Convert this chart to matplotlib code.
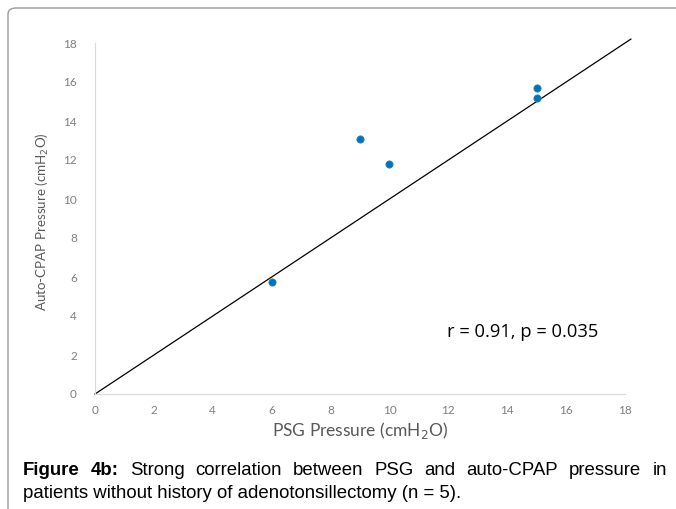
import matplotlib
matplotlib.use("Agg")
import matplotlib.pyplot as plt
from matplotlib.patches import FancyBboxPatch

# Data
psg_pressure = [6, 9, 10, 15, 15]
auto_cpap_pressure = [5.75, 13.1, 11.8, 15.7, 15.2]
identity_x = [0, 18.2]
identity_y = [0, 18.2]
ticks = [0, 2, 4, 6, 8, 10, 12, 14, 16, 18]

W, H = 676, 509
fig = plt.figure(figsize=(W / 100, H / 100), dpi=100)

# outer rounded frame (extends beyond right and bottom edges)
frame = FancyBboxPatch((8 / W, -30 / H), 720 / W, (509 - 8 + 30) / H,
                       boxstyle="round,pad=0,rounding_size=0.012",
                       transform=fig.transFigure, fill=False,
                       edgecolor="#9a9a9a", linewidth=1.0, clip_on=False)
fig.patches.append(frame)

ax = fig.add_axes([95 / W, 1 - 394 / H, 530 / W, 351 / H])
ax.set_xlim(0, 18)
ax.set_ylim(0, 18)
ax.set_xticks(ticks)
ax.set_yticks(ticks)

tick_font = {"family": ["Lato", "DejaVu Sans"], "size": 8.5, "color": "#7f7f7f"}
ax.set_xticklabels([str(t) for t in ticks], **tick_font)
ax.set_yticklabels([str(t) for t in ticks], **tick_font)
ax.tick_params(axis="x", length=0, pad=8)
ax.tick_params(axis="y", length=0, pad=13)
for s in ["top", "right"]:
    ax.spines[s].set_visible(False)
for s in ["left", "bottom"]:
    ax.spines[s].set_color("#d9d9d9")
    ax.spines[s].set_linewidth(0.8)

ax.plot(identity_x, identity_y, color="black", linewidth=0.9, clip_on=False, zorder=2)
ax.plot(psg_pressure, auto_cpap_pressure, linestyle="none", marker="o",
        markersize=5.2, markerfacecolor="#0070C0", markeredgecolor="#2a8aa0",
        markeredgewidth=0.6, zorder=3, clip_on=False)

ax.set_xlabel(r"PSG Pressure (cmH$_2$O)", fontsize=12.5, color="#595959",
              family=["Lato", "DejaVu Sans"], labelpad=3)
ax.set_ylabel(r"Auto-CPAP Pressure (cmH$_2$O)", fontsize=9.6, color="#595959",
              family=["Lato", "DejaVu Sans"], labelpad=4)
ax.yaxis.set_label_coords(-0.083, 0.49)

ax.text(11.95, 3.2, "r = 0.91, p = 0.035", fontsize=13.2, color="black",
        family=["Open Sans", "DejaVu Sans"], ha="left", va="center")

# caption (justified first line)
cap_family = ["Liberation Sans Narrow", "Liberation Sans", "DejaVu Sans"]
cap_size = 13.4
line1 = [("Figure", True), ("4b:", True), ("Strong", False), ("correlation", False),
         ("between", False), ("PSG", False), ("and", False), ("auto-CPAP", False),
         ("pressure", False), ("in", False)]
x_left, x_right = 23, 667
y1 = 1 - 475 / H
texts = []
for w, b in line1:
    t = fig.text(0, y1, w, fontsize=cap_size, family=cap_family,
                 fontweight="bold" if b else "normal", va="baseline", ha="left")
    texts.append(t)
fig.canvas.draw()
r = fig.canvas.get_renderer()
widths = [t.get_window_extent(r).width for t in texts]
gap = (x_right - x_left - sum(widths)) / (len(texts) - 1)
x = x_left
for t, w in zip(texts, widths):
    t.set_x(x / W)
    x += w + gap

fig.text(x_left / W, 1 - 498 / H,
         "patients without history of adenotonsillectomy (n = 5).",
         fontsize=cap_size, family=cap_family, va="baseline", ha="left")

fig.savefig("out.png", dpi=100)
